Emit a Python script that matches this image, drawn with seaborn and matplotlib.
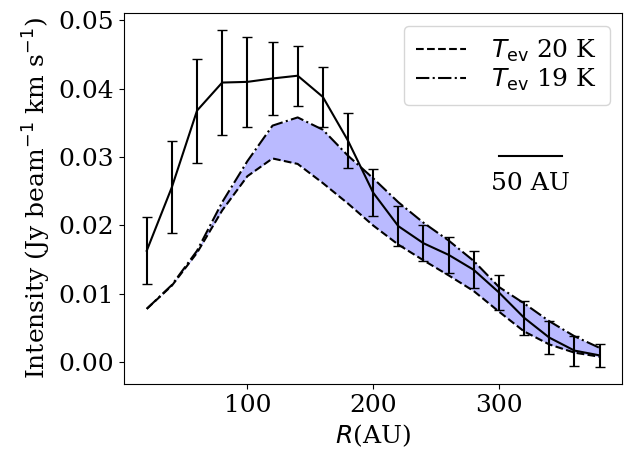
import matplotlib
matplotlib.use("Agg")
import matplotlib.pyplot as plt
import seaborn as sns
import pandas as pd

# radial bins (AU)
radius = [20, 40, 60, 80, 100, 120, 140, 160, 180, 200,
          220, 240, 260, 280, 300, 320, 340, 360, 380]

# observed profile and its uncertainty
obs_intensity = [0.0163, 0.0256, 0.0368, 0.0409, 0.0410, 0.0415, 0.0419, 0.0388, 0.0324, 0.0248,
                 0.0199, 0.0174, 0.0157, 0.0135, 0.0102, 0.0065, 0.0036, 0.0017, 0.0010]
obs_error = [0.0049, 0.0067, 0.0076, 0.0077, 0.0066, 0.0053, 0.0044, 0.0044, 0.0040, 0.0034,
             0.0029, 0.0026, 0.0026, 0.0027, 0.0026, 0.0025, 0.0024, 0.0022, 0.0017]

# model profiles
model_20k = [0.0078, 0.0112, 0.0160, 0.0222, 0.0272, 0.0298, 0.0290, 0.0262, 0.0232, 0.0200,
             0.0172, 0.0149, 0.0127, 0.0104, 0.0074, 0.0045, 0.0026, 0.0014, 0.0008]
model_19k = [0.0078, 0.0113, 0.0163, 0.0234, 0.0294, 0.0346, 0.0358, 0.0340, 0.0302, 0.0269,
             0.0234, 0.0204, 0.0178, 0.0148, 0.0110, 0.0086, 0.0060, 0.0038, 0.0021]

labels = [r"$T_{\rm ev}$ 20 K", r"$T_{\rm ev}$ 19 K"]

plt.rcParams["font.family"] = ["DejaVu Serif"]
plt.rcParams["font.size"] = 18

df = pd.DataFrame({
    "R": radius * 2,
    "I": model_20k + model_19k,
    "model": [labels[0]] * len(radius) + [labels[1]] * len(radius),
})

fig, ax = plt.subplots(figsize=(6.33, 4.5), dpi=100)
fig.subplots_adjust(left=0.196, right=0.983, top=0.971, bottom=0.147)

ax.fill_between(radius, model_20k, model_19k, color="blue", alpha=0.27, lw=0)
sns.lineplot(data=df, x="R", y="I", hue="model", style="model",
             palette=["black", "black"], dashes=[(3.7, 1.6), (6.4, 1.6, 1, 1.6)],
             linewidth=1.5, ax=ax)

ax.errorbar(radius, obs_intensity, yerr=obs_error, color="black", lw=1.5,
            capsize=3.5, elinewidth=1.5)

# scale bar
ax.plot([300, 350], [0.0301, 0.0301], color="black", lw=1.5)
ax.text(325, 0.0262, "50 AU", ha="center", va="center", fontsize=18)

ax.set_xlabel(r"$R$(AU)")
ax.set_ylabel(r"Intensity (Jy beam$^{-1}$ km s$^{-1}$)")
ax.set_xticks([100, 200, 300])
ax.set_yticks([0.00, 0.01, 0.02, 0.03, 0.04, 0.05])

ax.legend(loc="upper right", fontsize=18, title=None, labelspacing=0.1,
          borderpad=0.5, handletextpad=1.0)

fig.savefig("out.png", dpi=100)
